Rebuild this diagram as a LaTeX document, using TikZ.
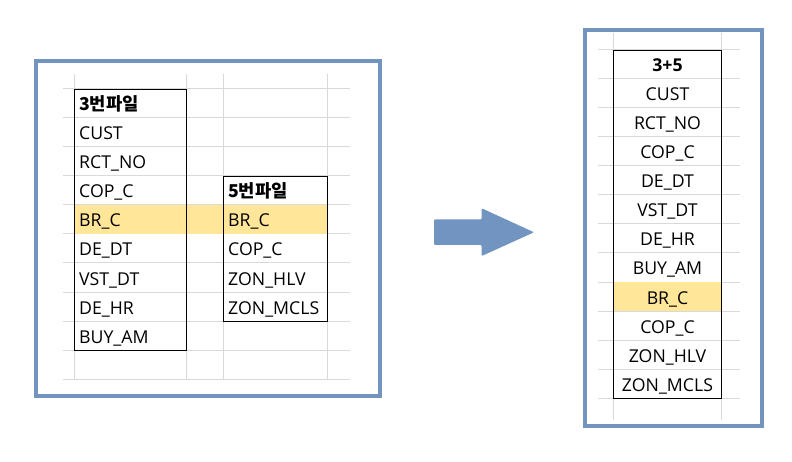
\documentclass[tikz,border=0pt]{standalone}
\usepackage{fontspec}
\setmainfont{Open Sans}
\newfontfamily\kr{Noto Sans CJK KR}
\definecolor{frameblue}{HTML}{7194C1}
\definecolor{gridgray}{HTML}{D9D9D9}
\definecolor{keyfill}{HTML}{FFE699}
\tikzset{
	frame/.style={frameblue, line width=4pt},
	grid line/.style={gridgray, line width=1pt},
	table box/.style={draw=black, line width=0.9pt},
	cell/.style={anchor=base west, inner sep=0pt},
	mid cell/.style={anchor=base, inner sep=0pt}
}

\begin{document}
\begin{tikzpicture}[x=1pt, y=-1pt, every node/.style={font=\fontsize{17.7}{20}\selectfont}]
		\useasboundingbox (0,0) rectangle (792,462);
		%
		%linker Rahmen
		\draw[frame] (36,61) rectangle (380,396);
		%
		%Gitter links
		\foreach \y in {89,118,...,379} \draw[grid line] (63,\y) -- (350,\y);
		\foreach \x in {74.3,186.3,223.3,327.3} \draw[grid line] (\x,74) -- (\x,380);
		%
		%Schluessel BR_C
		\fill[keyfill] (74.3,205.3) rectangle (327.3,234.3);
		%
		%Datei 3
		\draw[table box] (74.3,89.3) rectangle (186.3,350.3);
		\node[cell] (fA0) at (79,111) {\kr\bfseries 3번파일};
		\foreach \name [count=\i] in {CUST,RCT\_NO,COP\_C,BR\_C,DE\_DT,VST\_DT,DE\_HR,BUY\_AM}
			\node[cell] (fA\i) at (79,111+29*\i) {\name};
		%
		%Datei 5
		\draw[table box] (223.3,176.3) rectangle (327.3,321.3);
		\node[cell] (fB0) at (228,198) {\kr\bfseries 5번파일};
		\foreach \name [count=\i] in {BR\_C,COP\_C,ZON\_HLV,ZON\_MCLS}
			\node[cell] (fB\i) at (228,198+29*\i) {\name};
		%
		%Pfeil
		\fill[frameblue, rounded corners=1pt] (434,219.3) -- (481.7,219.3) -- (481.7,208.3) -- (534,232.3)
			-- (481.7,256) -- (481.7,245) -- (434,245) -- cycle;
		%
		%rechter Rahmen
		\draw[frame] (585,30) rectangle (762,426);
		%
		%Gitter rechts
		\foreach \y in {50,79,...,398} \draw[grid line] (598,\y) -- (740,\y);
		\foreach \x in {613.3,721.7} \draw[grid line] (\x,33) -- (\x,420);
		%
		%Schluessel BR_C
		\fill[keyfill] (613.3,282.3) rectangle (721.7,311.3);
		%
		%Datei 3+5
		\draw[table box] (613.3,50) rectangle (721.7,398.3);
		\node[mid cell] (fC0) at (667.5,72) {\bfseries 3+5};
		\foreach \name [count=\i] in {CUST,RCT\_NO,COP\_C,DE\_DT,VST\_DT,DE\_HR,BUY\_AM,BR\_C,COP\_C,ZON\_HLV,ZON\_MCLS}
			\node[mid cell] (fC\i) at (667.5,72+29*\i) {\name};
	\end{tikzpicture}
\end{document}
